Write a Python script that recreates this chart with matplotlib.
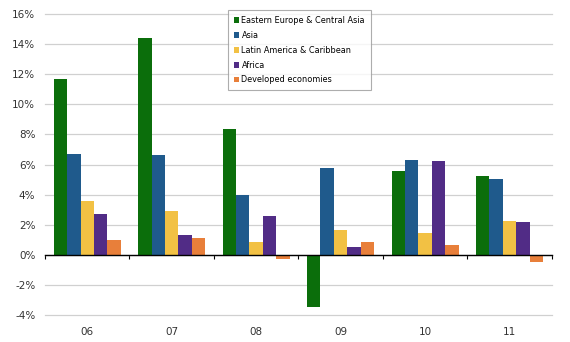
import matplotlib.pyplot as plt
import numpy as np

years = ['06', '07', '08', '09', '10', '11']
series_names = ['Eastern Europe & Central Asia', 'Asia', 'Latin America & Caribbean',
                'Africa', 'Developed economies']
eeca = [11.7, 14.4, 8.35, -3.5, 5.55, 5.25]
asia = [6.7, 6.65, 3.95, 5.75, 6.3, 5.05]
latam = [3.55, 2.9, 0.85, 1.65, 1.45, 2.25]
africa = [2.7, 1.3, 2.6, 0.5, 6.2, 2.15]
developed = [0.95, 1.1, -0.3, 0.85, 0.65, -0.45]
colors = ['#0b6e0b', '#1f5a8c', '#f2c144', '#512c86', '#e87f3a']

fig = plt.figure(figsize=(5.7, 3.42), dpi=100)
ax = fig.add_axes([0.079, 0.079, 0.889, 0.880])

x = np.arange(len(years))
w = 0.159
for i, (vals, name) in enumerate(zip([eeca, asia, latam, africa, developed], series_names)):
    ax.bar(x + (i - 2) * w, vals, width=w, color=colors[i], label=name, zorder=3)

ax.set_xlim(-0.5, len(years) - 0.5)
ax.set_ylim(-4, 16)
ax.set_yticks(np.arange(-4, 17, 2))
ax.set_yticklabels([f'{v}%' for v in range(-4, 17, 2)], fontsize=7.5, color='#333333')
ax.tick_params(axis='y', length=0, pad=7)
ax.grid(axis='y', color='#d0d0d0', linewidth=0.9, zorder=0)
for gl in ax.get_ygridlines():
    gl.set_clip_on(False)

for s in ['top', 'right', 'left']:
    ax.spines[s].set_visible(False)
ax.spines['bottom'].set_position(('data', 0))
ax.spines['bottom'].set_color('black')
ax.spines['bottom'].set_linewidth(1.0)
ax.spines['bottom'].set_zorder(4)
ax.set_xticks(np.arange(-0.5, len(years), 1.0))
ax.set_xticklabels([])
ax.tick_params(axis='x', length=3, direction='out', color='black')

sec = ax.secondary_xaxis(0)
sec.set_xticks(x)
sec.set_xticklabels(years, fontsize=7.5, color='#333333')
sec.tick_params(length=0, pad=9)
sec.spines['bottom'].set_visible(False)

leg = ax.legend(loc='upper left', bbox_to_anchor=(0.361, 1.013), fontsize=5.9,
                frameon=True, fancybox=False, edgecolor='#999999',
                handlelength=0.7, handleheight=0.7, handletextpad=0.25,
                labelspacing=0.72, borderpad=0.7, borderaxespad=0)
leg.get_frame().set_linewidth(0.8)

fig.savefig('out.png', dpi=100)
